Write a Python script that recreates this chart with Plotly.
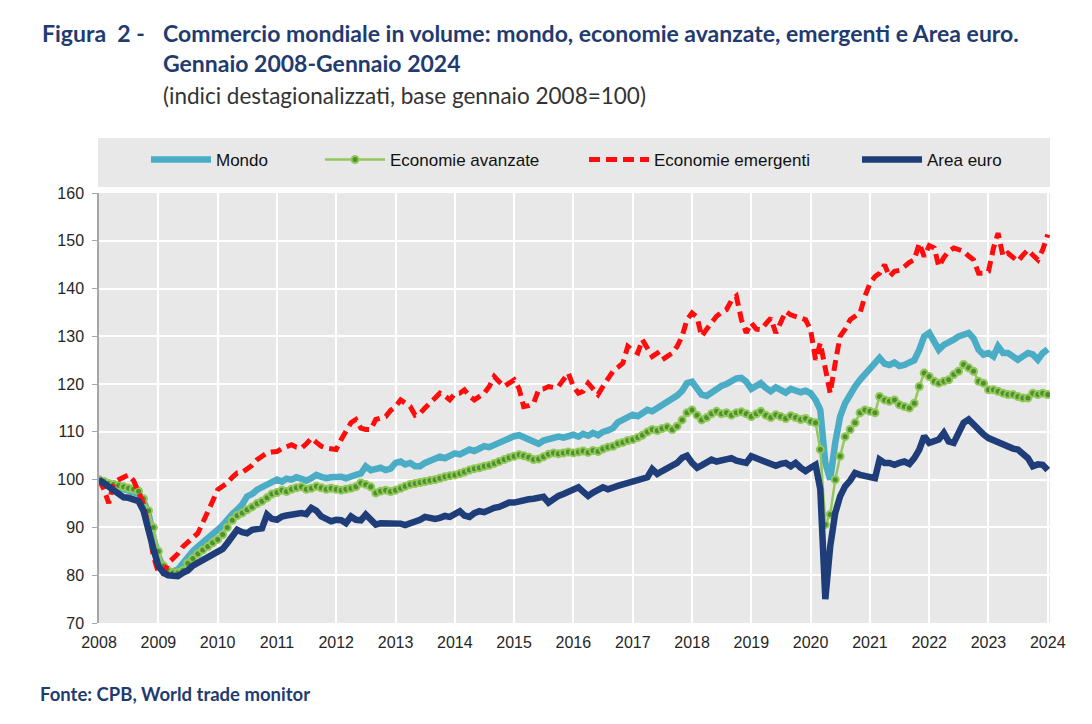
import pandas as pd
import plotly.graph_objects as go

months = pd.date_range("2008-01-01", "2024-01-01", freq="MS")

mondo = [
    100, 99.5, 99.0, 98.6, 98.3, 98.0, 97.6, 97.3, 97.0, 95.5, 93.0, 88.0,
    84.0, 81.5, 80.8, 80.8, 81.2, 82.5, 84.0, 85.0, 86.0, 86.8, 87.5, 88.5,
    89.5, 90.5, 91.8, 92.8, 93.7, 94.8, 96.5, 97.0, 97.9, 98.5, 99.0, 99.5,
    100.0, 99.6, 100.2, 100.0, 100.5, 100.2, 99.8, 100.3, 101.0, 100.6, 100.3, 100.5,
    100.7, 100.6, 100.3, 100.8, 101.0, 101.3, 102.8, 102.0, 102.2, 102.5, 102.0, 102.3,
    103.5, 103.8, 103.2, 103.5, 102.8, 102.8, 103.5, 104.0, 104.2, 104.8, 104.5, 105.0,
    105.5, 105.3, 105.8, 106.3, 106.0, 106.5, 107.0, 106.8, 107.3, 107.8, 108.0, 108.5,
    109.1, 109.3, 108.8, 108.3, 107.7, 107.5, 108.2, 108.5, 108.7, 109.0, 108.8, 109.2,
    109.4, 109.0, 109.6, 109.2, 109.8, 109.3, 110.0, 110.3, 110.8, 112.0, 112.6, 113.0,
    113.6, 113.3, 114.0, 114.6, 114.3, 115.0, 115.5, 116.2, 116.8, 117.6, 118.6, 120.2,
    120.5, 119.2, 117.8, 117.5, 118.3, 119.2, 119.6, 120.0, 120.5, 121.2, 121.3, 120.5,
    119.0, 119.5, 120.2, 119.2, 118.5, 119.3, 118.8, 118.2, 119.0, 118.7, 118.3, 118.6,
    118.1, 116.7, 114.6, 103.5, 100.0, 107.7, 113.2, 116.0, 118.1, 119.5, 120.9, 122.0,
    123.0, 124.4, 125.5, 124.3, 124.0, 124.5, 123.8, 124.0, 124.6, 125.0, 127.2, 130.0,
    130.7, 128.9, 127.2, 128.2, 128.6, 129.3, 130.0, 130.3, 130.7, 129.6, 127.2, 126.2,
    126.5, 125.8, 127.9, 126.5, 126.5, 125.8, 125.1, 125.8, 126.5, 126.2, 125.1, 126.5,
    127.3,
]

avanzate = [
    100, 99.6, 99.2, 99.0, 98.8, 98.5, 98.2, 98.0, 97.6, 96.0, 93.5, 90.0,
    85.0, 82.0, 81.0, 80.5, 80.5, 81.0, 82.5, 83.5, 84.5, 85.3, 86.0, 86.8,
    87.5, 88.5, 90.0, 91.5, 92.5, 93.0, 93.7, 94.3, 95.0, 95.5, 96.2, 97.0,
    97.3, 97.8, 97.5, 98.0, 98.3, 98.5, 98.0, 98.2, 98.6, 98.3, 98.0, 98.2,
    98.0, 97.8, 98.0, 98.2, 98.5, 99.3, 99.0, 98.5, 97.2, 97.6, 97.8, 97.5,
    97.8, 98.2, 98.6, 99.0, 99.2, 99.4, 99.6, 99.8, 100.0, 100.3, 100.6, 100.8,
    101.0, 101.3, 101.6, 102.0, 102.3, 102.5, 102.8, 103.0, 103.4, 103.8, 104.2, 104.6,
    104.9, 105.2, 105.0, 104.7, 104.2, 104.3, 104.8, 105.3, 105.6, 105.4, 105.6, 105.8,
    105.6, 105.8, 106.0, 105.7, 106.1, 105.9, 106.4, 106.8, 107.0, 107.5, 107.8, 108.2,
    108.4, 108.8, 109.3, 110.0, 110.5, 110.3, 110.7, 111.0, 110.5, 111.2, 112.5, 114.0,
    114.6, 113.5, 112.5, 113.0, 113.8, 114.3, 113.8, 114.0, 113.5, 114.0, 114.2, 113.8,
    113.2, 113.8, 114.3, 113.5, 113.0, 113.6, 113.2, 112.8, 113.4, 113.0, 112.6, 112.8,
    112.2, 111.9, 106.3, 90.6, 92.7, 100.0, 104.9, 109.0, 110.5, 111.9, 114.0, 114.6,
    114.3, 114.0, 117.4, 116.7, 116.4, 116.7, 115.7, 115.3, 115.0, 116.0, 119.5, 122.3,
    121.6, 120.6, 120.2, 120.6, 120.9, 122.0, 122.7, 124.1, 123.4, 122.7, 120.6, 120.2,
    118.8, 118.8, 118.5, 118.1, 117.8, 117.8, 117.4, 117.1, 117.1, 118.1, 117.8, 118.1,
    117.8,
]

emergenti = [
    100, 97.9, 95.1, 99.3, 100.0, 100.5, 101.0, 99.8, 97.5, 95.0, 90.0, 84.0,
    80.5, 80.3, 82.5, 83.5, 84.5, 86.0, 87.0, 88.0, 88.8, 91.0, 93.0, 95.5,
    97.9, 98.5, 99.3, 100.5, 101.4, 101.5, 102.1, 103.0, 104.2, 104.8, 105.6, 105.8,
    105.9, 106.5, 107.0, 107.3, 106.8, 106.6, 107.5, 108.7, 107.8, 107.0, 106.6, 106.5,
    106.3, 108.4, 110.0, 111.9, 112.6, 110.8, 110.5, 110.5, 112.6, 112.8, 113.2, 114.5,
    115.3, 116.7, 116.0, 115.3, 113.5, 113.9, 115.0, 116.0, 117.0, 118.1, 117.5, 116.7,
    118.0, 118.1, 118.8, 117.5, 116.7, 117.5, 118.1, 119.5, 121.6, 120.5, 119.5, 120.2,
    120.9, 119.0, 115.3, 115.5, 116.0, 118.8, 119.0, 119.5, 119.3, 119.5, 121.0, 122.3,
    119.5, 118.1, 118.5, 120.2, 119.0, 117.8, 119.5, 120.9, 122.7, 123.5, 124.4, 127.9,
    127.0, 126.5, 129.3, 127.5, 125.8, 126.5, 125.1, 125.8, 126.5, 127.9, 130.0, 133.5,
    134.9, 134.0, 130.0, 131.5, 132.8, 134.2, 135.0, 135.6, 137.5, 138.4, 133.5, 130.7,
    132.8, 131.5, 131.4, 132.5, 133.8, 130.7, 133.0, 135.2, 134.5, 134.2, 133.8, 133.5,
    131.4, 125.1, 128.6, 123.7, 118.1, 124.4, 130.0, 131.5, 133.5, 134.2, 134.9, 138.4,
    141.1, 142.5, 143.2, 145.0, 142.5, 143.6, 143.8, 144.6, 145.5, 146.0, 149.5, 146.7,
    149.0, 148.5, 144.6, 146.5, 147.8, 148.5, 148.2, 147.8, 146.8, 146.0, 143.2, 143.2,
    143.6, 148.5, 151.6, 146.7, 147.4, 146.5, 145.7, 147.0, 148.1, 147.0, 146.0, 148.1,
    151.3,
]

area_euro = [
    100, 99.2, 98.3, 97.6, 96.8, 96.3, 96.2, 96.0, 95.5, 93.5, 90.0, 85.5,
    81.9, 80.5, 80.0, 79.8, 79.8, 80.5, 81.0, 82.0, 82.6, 83.2, 84.0, 84.5,
    85.0, 85.5, 86.7, 88.0, 89.5, 89.0, 88.8, 89.5, 89.5, 89.8, 92.7, 91.8,
    91.6, 92.3, 92.5, 92.7, 92.7, 93.0, 92.8, 94.1, 93.5, 92.3, 91.8, 91.3,
    91.6, 91.5, 90.9, 92.3, 91.6, 91.5, 92.7, 91.8, 90.6, 90.9, 90.9, 91.0,
    91.0, 90.8, 90.5, 90.8, 91.2, 91.6, 92.2, 92.0, 91.8, 92.0, 92.4, 92.2,
    92.8, 93.4, 92.5, 92.2, 93.0, 93.4, 93.2, 93.8, 94.1, 94.3, 94.8, 95.2,
    95.2, 95.5, 95.7, 95.9, 96.0, 96.2, 96.4, 95.2, 96.0, 96.6, 97.0, 97.5,
    98.0, 98.4, 97.5, 96.6, 97.3, 97.8, 98.4, 98.0, 98.5, 98.7, 99.0, 99.3,
    99.8, 100.0, 100.3, 100.5, 102.2, 101.2, 101.8, 102.3, 102.9, 103.5, 104.6, 105.0,
    103.5, 102.5, 103.0, 103.5, 104.2, 103.8, 104.0, 104.3, 104.5, 104.0, 103.8, 103.5,
    104.9, 104.5, 104.0, 103.8, 103.5, 102.9, 103.3, 103.5, 102.8, 103.5, 102.5, 101.8,
    102.5, 103.1, 98.0, 75.0, 86.0, 93.0, 96.5, 98.6, 99.8, 101.4, 101.0, 100.7,
    100.5, 100.3, 104.2, 103.5, 103.5, 103.1, 103.5, 103.8, 103.3, 104.5, 106.3, 109.1,
    107.7, 108.0, 108.4, 109.8, 108.0, 107.7, 110.0, 111.9, 112.6, 111.5, 110.5, 109.5,
    108.7, 108.2, 107.7, 107.5, 107.0, 106.5, 106.3, 105.6, 104.5, 102.8, 103.2, 103.1,
    102.0,
]

year_ticks = [str(y) for y in range(2008, 2025)]
y_ticks = list(range(70, 161, 10))

NARROW = "Liberation Sans Narrow, Arial Narrow, Liberation Sans, Arial, sans-serif"
TITLE_FONT = "Lato, Carlito, Calibri, sans-serif"
NAVY_TXT = "#1f3b70"

fig = go.Figure()
fig.add_trace(go.Scatter(x=months, y=mondo, name="Mondo", mode="lines",
                         line=dict(color="#4bacc6", width=6.5), legend="legend"))
fig.add_trace(go.Scatter(x=months, y=avanzate, name="Economie avanzate", mode="lines+markers",
                         line=dict(color="#92c95a", width=2.5),
                         marker=dict(size=7, color="#4f8f2f", line=dict(color="#92c95a", width=2)),
                         legend="legend2"))
fig.add_trace(go.Scatter(x=months, y=emergenti, name="Economie emergenti", mode="lines",
                         line=dict(color="#ff0d0d", width=5, dash="11px,6px"), legend="legend3"))
fig.add_trace(go.Scatter(x=months, y=area_euro, name="Area euro", mode="lines",
                         line=dict(color="#1f3d78", width=6.5), legend="legend4"))

L, R, T, B = 99, 1050, 193, 623
W, H = R - L, B - T

def px(x):
    return (x - L) / W

def py(y):
    return (B - y) / H

shapes = [
    dict(type="rect", xref="paper", yref="paper", x0=px(98), x1=px(1050), y0=py(187), y1=py(138),
         fillcolor="#e8e8e8", line=dict(width=0), layer="below"),
    dict(type="line", xref="paper", yref="y", x0=0, x1=1, y0=100, y1=100,
         line=dict(color="#b3b3b3", width=1.5), layer="between"),
]

leg_common = dict(orientation="h", yanchor="middle", y=py(160), xanchor="left",
                  bgcolor="rgba(0,0,0,0)", font=dict(family=NARROW, size=17, color="#111111"),
                  itemwidth=60, tracegroupgap=0)
legends = {}
for key, xpos in [("legend", 146), ("legend2", 320), ("legend3", 584), ("legend4", 857)]:
    d = dict(leg_common)
    d["x"] = px(xpos)
    legends[key] = d

annotations = [
    dict(text="<b>Figura  2 -</b>", x=px(40), y=py(33), xref="paper", yref="paper",
         xanchor="left", yanchor="middle", showarrow=False,
         font=dict(family=TITLE_FONT, size=23, color=NAVY_TXT)),
    dict(text="<b>Commercio mondiale in volume: mondo, economie avanzate, emergenti e Area euro.</b>",
         x=px(161), y=py(33), xref="paper", yref="paper", xanchor="left", yanchor="middle",
         showarrow=False, font=dict(family=TITLE_FONT, size=23, color=NAVY_TXT)),
    dict(text="<b>Gennaio 2008-Gennaio 2024</b>", x=px(161), y=py(63), xref="paper", yref="paper",
         xanchor="left", yanchor="middle", showarrow=False,
         font=dict(family=TITLE_FONT, size=23, color=NAVY_TXT)),
    dict(text="(indici destagionalizzati, base gennaio 2008=100)", x=px(161), y=py(96),
         xref="paper", yref="paper", xanchor="left", yanchor="middle", showarrow=False,
         font=dict(family=TITLE_FONT, size=22.5, color="#333333")),
    dict(text="<b>Fonte: CPB, World trade monitor</b>", x=px(38), y=py(694), xref="paper",
         yref="paper", xanchor="left", yanchor="middle", showarrow=False,
         font=dict(family=TITLE_FONT, size=18.5, color=NAVY_TXT)),
]

fig.update_layout(
    width=1092, height=724,
    margin=dict(l=L, r=1092 - R, t=T, b=724 - B),
    paper_bgcolor="white", plot_bgcolor="#e8e8e8",
    shapes=shapes, annotations=annotations,
    showlegend=True,
    **legends,
)
fig.update_xaxes(
    type="date", range=["2008-01-01", "2024-01-15"],
    tickvals=[f"{y}-01-01" for y in year_ticks], ticktext=year_ticks,
    showgrid=True, gridcolor="white", gridwidth=2,
    showline=False, zeroline=False, ticks="",
    ticklabelstandoff=8,
    tickfont=dict(family=NARROW, size=16, color="#262626"),
)
fig.update_yaxes(
    range=[70, 160], tickvals=y_ticks,
    showgrid=True, gridcolor="white", gridwidth=2,
    showline=True, linecolor="#a6a6a6", linewidth=1.5,
    ticks="outside", ticklen=5, tickcolor="#a6a6a6",
    zeroline=False, ticklabelstandoff=5,
    tickfont=dict(family=NARROW, size=16, color="#262626"),
)

fig.write_html("out.html")
